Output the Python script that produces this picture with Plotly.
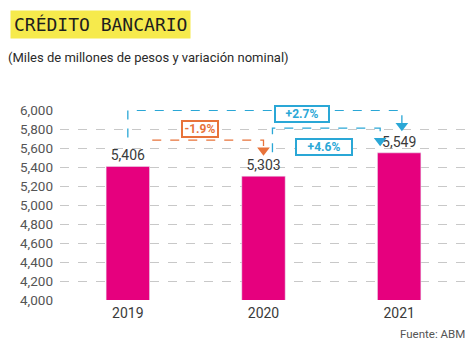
import plotly.graph_objects as go

# Bank credit, billions of pesos
years = ["2019", "2020", "2021"]
credit = [5406, 5303, 5549]
# nominal change between years, as published (%)
change_labels = ["-1.9%", "+2.7%", "+4.6%"]
y_ticks = list(range(4000, 6001, 200))

BAR = "#E6007E"
ORANGE = "#E8733A"
BLUE = "#2AA7D6"
GRID = "#C8C8C8"
TEXT = "#3A3A3A"

W, H = 474, 344
ML, MR, MT, MB = 60, 7, 110, 44
PW, PH = W - ML - MR, H - MT - MB

# pixel -> value scale on the y axis
PX = 2000 / PH
xpos = list(range(len(years)))


def paper_x(px):
    return (px - ML) / PW


def paper_y(py):
    return (H - MB - py) / PH


fig = go.Figure()
fig.add_trace(go.Bar(
    x=xpos, y=credit, marker_color=BAR, width=0.32,
    text=[f"{v:,}" for v in credit], textposition="outside",
    textfont=dict(size=14, color=TEXT, family="Roboto"),
    cliponaxis=False, hoverinfo="skip",
))


def bracket(points, color):
    path = "M " + " L ".join(f"{x},{y}" for x, y in points)
    fig.add_shape(type="path", path=path, xref="x", yref="y",
                  line=dict(color=color, width=1.3, dash="dash"), layer="above")


def arrow(x, tip, color):
    fig.add_trace(go.Scatter(
        x=[x], y=[tip + 4 * PX], mode="markers", hoverinfo="skip", cliponaxis=False,
        marker=dict(symbol="triangle-down", size=11, color=color, line=dict(width=0)),
    ))


def tag(x, y, text, color, w):
    fig.add_annotation(x=x, y=y, xref="x", yref="y", text=f"<b>{text}</b>",
                       showarrow=False, bgcolor="white", bordercolor=color,
                       borderwidth=2, borderpad=0, width=w,
                       font=dict(size=12, color=color, family="Roboto"))


# 2019 -> 2020
tip_a = credit[1] + 22 * PX
bracket([(0.18, credit[1] + 36 * PX), (1.0, credit[1] + 36 * PX), (1.0, tip_a + 6 * PX)], ORANGE)
arrow(1.0, tip_a, ORANGE)
tag(0.535, 5805, change_labels[0], ORANGE, 34)

# 2019 -> 2021
tip_b = credit[2] + 23 * PX
bracket([(0.0, credit[0] + 29 * PX), (0.0, 5996), (2.02, 5996), (2.02, tip_b + 6 * PX)], BLUE)
arrow(2.02, tip_b, BLUE)
tag(1.284, 5958, change_labels[1], BLUE, 52)

# 2020 -> 2021
tip_c = credit[2] + 8 * PX
bracket([(1.066, credit[1] + 24 * PX), (1.066, 5810), (1.86, 5810), (1.86, tip_c + 6 * PX)], BLUE)
arrow(1.86, tip_c, BLUE)
tag(1.446, 5610, change_labels[2], BLUE, 54)

fig.add_annotation(x=paper_x(10), y=paper_y(24.5), xref="paper", yref="paper",
                   xanchor="left", yanchor="middle", showarrow=False,
                   text="CRÉDITO BANCARIO", bgcolor="#F6EA4C", borderpad=3,
                   font=dict(family="DejaVu Sans Mono", size=18, color="#1E1E1E"))
fig.add_annotation(x=paper_x(6), y=paper_y(57), xref="paper", yref="paper",
                   xanchor="left", yanchor="middle", showarrow=False,
                   text="(Miles de millones de pesos y variación nominal)",
                   font=dict(family="Roboto", size=13, color="#2A2A2A"))
fig.add_annotation(x=paper_x(467), y=paper_y(334), xref="paper", yref="paper",
                   xanchor="right", yanchor="middle", showarrow=False,
                   text="Fuente: ABM",
                   font=dict(family="Roboto", size=11.5, color="#555"))

fig.update_layout(
    width=W, height=H, margin=dict(l=ML, r=MR, t=MT, b=MB),
    paper_bgcolor="white", plot_bgcolor="white", showlegend=False,
    font=dict(family="Roboto", color=TEXT),
)
fig.update_xaxes(range=[-0.5, 2.5], tickvals=xpos, ticktext=years,
                 showgrid=False, showline=False, zeroline=False,
                 ticks="", tickfont=dict(size=14, color=TEXT), ticklabelstandoff=3)
fig.update_yaxes(range=[4000, 6000], tickvals=y_ticks,
                 ticktext=[f"{v:,}" for v in y_ticks],
                 showgrid=True, gridcolor=GRID, griddash="dash", gridwidth=1,
                 zeroline=False, showline=False, ticks="",
                 tickfont=dict(size=13.5, color="#555"), ticklabelstandoff=6)

fig.write_html("out.html")
